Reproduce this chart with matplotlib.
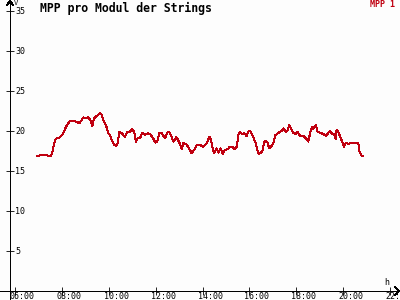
import matplotlib
matplotlib.use("Agg")
import matplotlib.pyplot as plt
from matplotlib.lines import Line2D

# ---- data (hours of day, volts) ----
hours = [6.92, 7.21, 7.52, 7.59, 7.64, 7.71, 7.78, 7.92, 8.06, 8.18, 8.32, 8.42,
         8.63, 8.75, 8.92, 8.99, 9.13, 9.23, 9.30, 9.37, 9.48, 9.63, 9.70, 9.77,
         9.88, 9.98, 10.05, 10.12, 10.24, 10.31, 10.38, 10.45, 10.55, 10.69, 10.79,
         10.91, 10.98, 11.08, 11.16, 11.22, 11.33, 11.43, 11.55, 11.65, 11.76, 11.87,
         11.99, 12.07, 12.16, 12.26, 12.40, 12.50, 12.58, 12.68, 12.76, 12.87, 12.94,
         13.04, 13.11, 13.18, 13.30, 13.40, 13.54, 13.64, 13.75,
         13.89, 14.04, 14.18, 14.29, 14.36, 14.43, 14.50, 14.60, 14.68, 14.77, 14.86,
         14.96, 15.07, 15.17, 15.27, 15.36, 15.46, 15.53, 15.60, 15.70, 15.78, 15.88,
         15.97, 16.05, 16.17, 16.27, 16.34, 16.40, 16.48, 16.55, 16.62, 16.69, 16.78,
         16.84, 16.92, 17.02, 17.11, 17.19, 17.28, 17.38, 17.45, 17.55, 17.63, 17.70,
         17.78, 17.87, 17.97, 18.05, 18.16, 18.30, 18.42, 18.51, 18.59, 18.66, 18.73,
         18.83, 18.91, 19.01, 19.15, 19.27, 19.37, 19.44, 19.51, 19.61, 19.68, 19.72,
         19.79, 19.87, 19.96, 20.04, 20.12, 20.22, 20.36, 20.51, 20.65, 20.69, 20.79,
         20.86]
mpp1 = [16.88, 17.00, 16.88, 17.29, 18.04, 18.88, 19.08, 19.21, 19.71, 20.54, 21.17,
        21.29, 21.17, 20.96, 21.71, 21.58, 21.71, 21.29, 20.63, 21.58, 21.88, 22.21,
        22.00, 21.38, 20.75, 19.71, 19.50, 18.96, 18.25, 18.13, 18.46, 19.92, 19.71,
        19.29, 19.83, 19.92, 20.21, 19.92, 18.67, 19.08, 19.08, 19.79, 19.50, 19.71,
        19.63, 19.21, 18.54, 18.67, 19.79, 19.71, 19.08, 19.83, 19.92, 19.29, 18.67,
        19.21, 18.96, 18.38, 17.71, 18.46, 18.38, 17.96, 17.21, 17.63, 18.25,
        18.25, 18.04, 18.46, 19.29, 18.88, 17.83, 17.21, 17.83, 17.29, 17.83, 17.13,
        17.63, 17.71, 18.04, 18.04, 17.71, 18.04, 19.50, 19.92, 19.58, 19.71, 19.38,
        20.04, 19.92, 19.21, 18.46, 17.63, 17.13, 17.29, 17.38, 18.54, 18.75, 18.54,
        17.83, 18.04, 18.46, 19.50, 19.63, 19.88, 20.04, 20.33, 19.92, 20.04, 20.71,
        20.33, 19.79, 19.63, 19.88, 19.38, 19.38, 19.08, 18.67, 19.71, 20.46, 20.25,
        20.75, 19.92, 19.79, 19.63, 19.38, 19.79, 20.04, 19.71, 19.58, 18.96, 20.13,
        19.92, 19.29, 18.67, 18.04, 18.54, 18.38, 18.54, 18.46, 18.46, 17.46, 16.92,
        16.92]
series_name = "MPP 1"
title = "MPP pro Modul der Strings"
xticks = [6, 8, 10, 12, 14, 16, 18, 20, 22]
xticklabels = ["06:00", "08:00", "10:00", "12:00", "14:00", "16:00", "18:00", "20:00", "22:"]
yticks = [5, 10, 15, 20, 25, 30, 35]

fig = plt.figure(figsize=(4, 3), dpi=100, facecolor='#fdfdfd')
ax = fig.add_axes([0, 0, 1, 1], facecolor='#fdfdfd')
pxh = 23.44  # pixels per hour
ax.set_xlim(6 - 15 / pxh, 6 + 385 / pxh)
ax.set_ylim(-9 / 8, 291 / 8)
x_axis = 6 - 5 / pxh

ax.plot(hours, mpp1, color='#c00010', lw=0.72, antialiased=False)

for s in ['top', 'right']:
    ax.spines[s].set_visible(False)
ax.spines['left'].set_position(('data', x_axis))
ax.spines['bottom'].set_position(('data', 0))
for s in ['left', 'bottom']:
    ax.spines[s].set_linewidth(0.6)
    ax.spines[s].set_antialiased(False)
ax.set_xticks(xticks)
ax.set_yticks(yticks)
ax.tick_params(direction='inout', length=6, width=0.6, labelleft=False, labelbottom=False)

mono = 'DejaVu Sans Mono'
for t, lab in zip(xticks, xticklabels):
    ax.annotate(lab, (t, 0), xytext=(-5, -1), textcoords='offset pixels',
                ha='left', va='top', fontsize=6, family=mono)
for v in yticks:
    ax.annotate(str(v), (x_axis, v), xytext=(5, 0), textcoords='offset pixels',
                ha='left', va='center', fontsize=6, family=mono)

# axis arrows and unit labels
W, H = 400, 300
def fl(xs, ys):
    fig.add_artist(Line2D([x / W for x in xs], [1 - y / H for y in ys],
                          color='black', lw=0.6, antialiased=False))
fl([7, 10, 13], [5, 1, 5])
fl([395, 399, 395], [287, 291, 295])

fig.text(14 / W, 1 - 0 / H, "V", fontsize=5, family=mono, ha='left', va='top')
fig.text(384 / W, 1 - 278 / H, "h", fontsize=6, family=mono, ha='left', va='top')
fig.text(40 / W, 1 - 2 / H, title, fontsize=8.3, family=mono, weight='bold',
         ha='left', va='top')
fig.text(395 / W, 1 - 0 / H, series_name, fontsize=6, family=mono, color='#c00010',
         weight='bold', ha='right', va='top')

fig.savefig("out.png", dpi=100, facecolor=fig.get_facecolor())
